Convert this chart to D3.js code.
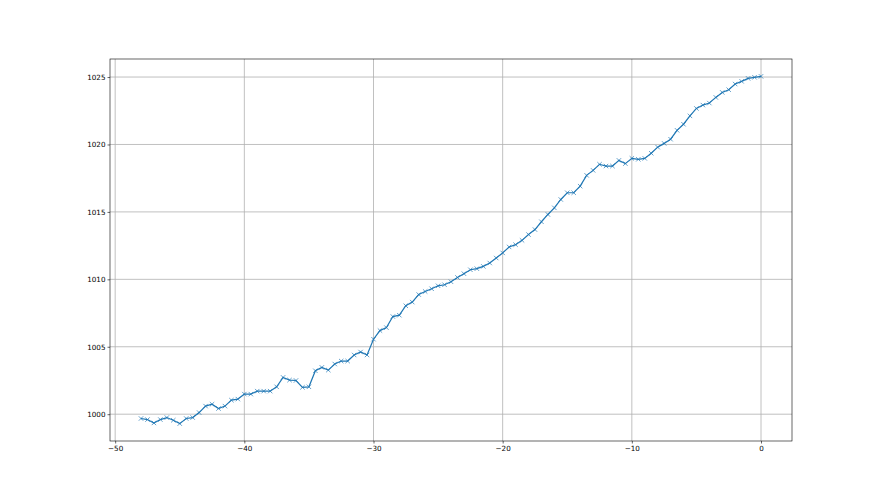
<!DOCTYPE html>
<html>
<head>
<meta charset="utf-8">
<script src="https://cdn.jsdelivr.net/npm/d3@7"></script>
<style>
  body { margin: 0; background: #fff; }
  .tick text { font-family: "DejaVu Sans", sans-serif; font-size: 7.2px; fill: #000; }
</style>
</head>
<body>
<div id="chart"></div>
<script>
const width = 880;
const height = 495;
const margin = { top: 59, bottom: 54, left: 110, right: 88 };

// sample times, -48 .. 0 every half step
const times = d3.range(-48, 0.01, 0.5);

const values = [
  999.68, 999.6, 999.35, 999.6, 999.75, 999.55, 999.3, 999.68, 999.75, 1000.12,
  1000.6, 1000.74, 1000.42, 1000.6, 1001.04, 1001.12, 1001.49, 1001.49, 1001.71, 1001.71,
  1001.71, 1002.03, 1002.73, 1002.53, 1002.5, 1001.99, 1002.03, 1003.22, 1003.47, 1003.27,
  1003.72, 1003.94, 1003.94, 1004.39, 1004.61, 1004.39, 1005.56, 1006.2, 1006.42, 1007.24,
  1007.34, 1008.04, 1008.31, 1008.87, 1009.1, 1009.3, 1009.52, 1009.6, 1009.82, 1010.14,
  1010.42, 1010.71, 1010.79, 1010.96, 1011.21, 1011.58, 1011.96, 1012.4, 1012.57, 1012.89,
  1013.32, 1013.69, 1014.27, 1014.81, 1015.3, 1015.92, 1016.42, 1016.42, 1016.91, 1017.71,
  1018.08, 1018.53, 1018.4, 1018.4, 1018.82, 1018.58, 1018.97, 1018.9, 1018.97, 1019.35,
  1019.8, 1020.08, 1020.39, 1021.05, 1021.5, 1022.12, 1022.67, 1022.92, 1023.07, 1023.49,
  1023.86, 1024.06, 1024.48, 1024.68, 1024.9, 1024.98, 1025.05
];

const xTicks = [-50, -40, -30, -20, -10, 0];
const yTicks = [1000, 1005, 1010, 1015, 1020, 1025];

const data = times.map((t, i) => ({ t: t, v: values[i] }));

const svg = d3.select("#chart")
  .append("svg")
  .attr("width", width)
  .attr("height", height);

// matplotlib style 5% padding
const xExt = d3.extent(times), yExt = d3.extent(values);
const xPad = (xExt[1] - xExt[0]) * 0.05, yPad = (yExt[1] - yExt[0]) * 0.05;

const x = d3.scaleLinear()
  .domain([xExt[0] - xPad, xExt[1] + xPad])
  .range([margin.left, width - margin.right]);

const y = d3.scaleLinear()
  .domain([yExt[0] - yPad, yExt[1] + yPad])
  .range([height - margin.bottom, margin.top]);

// grid
svg.append("g")
  .selectAll("line.vgrid")
  .data(xTicks)
  .enter().append("line")
  .attr("x1", d => x(d)).attr("x2", d => x(d))
  .attr("y1", margin.top).attr("y2", height - margin.bottom)
  .attr("stroke", "#b0b0b0").attr("stroke-width", 0.8);

svg.append("g")
  .selectAll("line.hgrid")
  .data(yTicks)
  .enter().append("line")
  .attr("y1", d => y(d)).attr("y2", d => y(d))
  .attr("x1", margin.left).attr("x2", width - margin.right)
  .attr("stroke", "#b0b0b0").attr("stroke-width", 0.8);

// line
const line = d3.line()
  .x(d => x(d.t))
  .y(d => y(d.v));

svg.append("path")
  .datum(data)
  .attr("d", line)
  .attr("fill", "none")
  .attr("stroke", "#1f77b4")
  .attr("stroke-width", 1.2);

// x markers
const m = 2.2;
svg.selectAll(".marker")
  .data(data)
  .enter().append("path")
  .attr("class", "marker")
  .attr("d", d => {
    const cx = x(d.t), cy = y(d.v);
    return `M${cx - m},${cy - m}L${cx + m},${cy + m}M${cx - m},${cy + m}L${cx + m},${cy - m}`;
  })
  .attr("stroke", "#1f77b4")
  .attr("stroke-width", 0.7);

// axes
const xAxis = svg.append("g")
  .attr("transform", `translate(0,${height - margin.bottom})`)
  .call(d3.axisBottom(x).tickValues(xTicks).tickFormat(d3.format("d")).tickSizeOuter(0).tickSize(2.5).tickPadding(2));

const yAxis = svg.append("g")
  .attr("transform", `translate(${margin.left},0)`)
  .call(d3.axisLeft(y).tickValues(yTicks).tickFormat(d3.format("d")).tickSizeOuter(0).tickSize(2.5).tickPadding(2));

xAxis.select(".domain").remove();
yAxis.select(".domain").remove();
svg.selectAll(".tick line").attr("stroke", "#000").attr("stroke-width", 0.6);

// frame
svg.append("rect")
  .attr("x", margin.left)
  .attr("y", margin.top)
  .attr("width", width - margin.left - margin.right)
  .attr("height", height - margin.top - margin.bottom)
  .attr("fill", "none")
  .attr("stroke", "#000")
  .attr("stroke-width", 0.6);
</script>
</body>
</html>
